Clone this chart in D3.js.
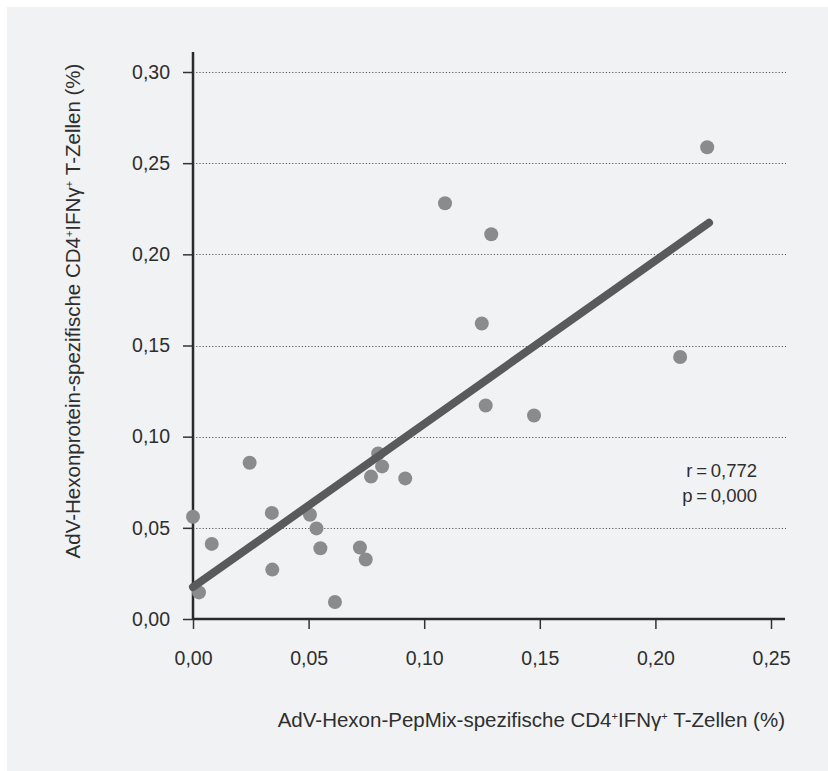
<!DOCTYPE html>
<html>
<head>
<meta charset="utf-8">
<script src="https://cdn.jsdelivr.net/npm/d3@7"></script>
<style>
  html, body { margin: 0; padding: 0; background: #ffffff; }
  svg { display: block; }
  text { font-family: "Liberation Sans", Arial, sans-serif; fill: #2e2e2e; }
</style>
</head>
<body>
<svg id="chart" width="828" height="771"></svg>
<script>
// ---- Data ----
const xValues = [0.000, 0.0026, 0.0081, 0.0245, 0.0341, 0.0343, 0.0506, 0.0534, 0.0551, 0.0614, 0.0722, 0.0747, 0.0770, 0.0801, 0.0818, 0.0918, 0.1090, 0.1290, 0.1249, 0.1266, 0.1475, 0.2107, 0.2224];
const yValues = [0.0561, 0.0146, 0.0412, 0.0857, 0.0582, 0.0271, 0.0572, 0.0497, 0.0388, 0.0093, 0.0392, 0.0326, 0.0781, 0.0908, 0.0837, 0.0771, 0.2280, 0.2110, 0.1621, 0.1171, 0.1116, 0.1437, 0.2587];
const regressionX = [0.0, 0.2232];
const regressionY = [0.0175, 0.2173];
const xTicks = [0.00, 0.05, 0.10, 0.15, 0.20, 0.25];
const yTicks = [0.00, 0.05, 0.10, 0.15, 0.20, 0.25, 0.30];
const gridTicks = [0.05, 0.10, 0.15, 0.20, 0.25, 0.30];
const statsLines = ["r\u2009=\u20090,772", "p\u2009=\u20090,000"];
const xTitleParts = [["AdV-Hexon-PepMix-spezifische CD4", false], ["+", true], ["IFN\u03b3", false], ["+", true], [" T-Zellen (%)", false]];
const yTitleParts = [["AdV-Hexonprotein-spezifische CD4", false], ["+", true], ["IFN\u03b3", false], ["+", true], [" T-Zellen (%)", false]];

const svg = d3.select("#chart");

// background panel
svg.append("rect").attr("x", 7).attr("y", 7).attr("width", 821).attr("height", 764).attr("fill", "#f1f2f4");

const x = d3.scaleLinear().domain([0, 0.25]).range([193, 771]);
const y = d3.scaleLinear().domain([0, 0.30]).range([619, 72]);
const fmt = d => d3.format(".2f")(d).replace(".", ",");

// gridlines
svg.append("g").selectAll("line").data(gridTicks).join("line")
  .attr("x1", x(0)).attr("x2", 786)
  .attr("y1", d => Math.round(y(d)) + 0.5).attr("y2", d => Math.round(y(d)) + 0.5)
  .attr("stroke", "#555").attr("stroke-width", 1.2).attr("stroke-dasharray", "1.2,2");

// y axis
const yAxis = svg.append("g").attr("transform", `translate(${x(0)},0)`)
  .call(d3.axisLeft(y).tickValues(yTicks).tickFormat(fmt).tickSize(10).tickPadding(13));
yAxis.select(".domain").remove();
yAxis.selectAll(".tick line").attr("stroke", "#333").attr("stroke-width", 1.5);
yAxis.selectAll(".tick text").style("font-size", "19.5px").style("font-family", "'Liberation Sans', Arial, sans-serif").attr("fill", "#2e2e2e");

// x axis
const xAxis = svg.append("g").attr("transform", `translate(0,${y(0)})`)
  .call(d3.axisBottom(x).tickValues(xTicks).tickFormat(fmt).tickSize(10).tickPadding(22));
xAxis.select(".domain").remove();
xAxis.selectAll(".tick line").attr("stroke", "#333").attr("stroke-width", 1.5);
xAxis.selectAll(".tick text").style("font-size", "19.5px").style("font-family", "'Liberation Sans', Arial, sans-serif").attr("fill", "#2e2e2e");

// axis lines
svg.append("line").attr("x1", x(0)).attr("x2", x(0)).attr("y1", 52).attr("y2", y(0))
  .attr("stroke", "#2a2a2a").attr("stroke-width", 2.5);
svg.append("line").attr("x1", x(0)).attr("x2", 785).attr("y1", y(0)).attr("y2", y(0))
  .attr("stroke", "#2a2a2a").attr("stroke-width", 2.5);

// points
svg.append("g").selectAll("circle").data(xValues.map((v, i) => [v, yValues[i]])).join("circle")
  .attr("cx", d => x(d[0])).attr("cy", d => y(d[1])).attr("r", 7)
  .attr("fill", "#8a8b8d");

// regression line
svg.append("line")
  .attr("x1", x(regressionX[0])).attr("y1", y(regressionY[0]))
  .attr("x2", x(regressionX[1])).attr("y2", y(regressionY[1]))
  .attr("stroke", "#5a5a5c").attr("stroke-width", 8).attr("stroke-linecap", "round");

// stats
svg.append("g").selectAll("text").data(statsLines).join("text")
  .attr("x", 757).attr("y", (d, i) => 477 + i * 25)
  .attr("text-anchor", "end").style("font-size", "18.5px").text(d => d);

function addParts(sel, parts) {
  parts.forEach(([t, sup]) => {
    const ts = sel.append("tspan").text(t);
    if (sup) ts.attr("baseline-shift", "7px").style("font-size", "11px");
  });
}

// x title
const xt = svg.append("text").attr("x", 785).attr("y", 727).attr("text-anchor", "end").style("font-size", "20.5px");
addParts(xt, xTitleParts);

// y title
const yt = svg.append("text").attr("transform", "translate(80,311) rotate(-90)").attr("text-anchor", "middle").style("font-size", "20.5px");
addParts(yt, yTitleParts);
</script>
</body>
</html>
